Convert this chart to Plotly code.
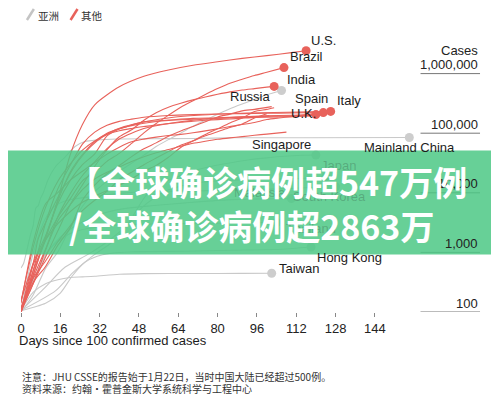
import math
import plotly.graph_objects as go

# ---------------- data ----------------
# red ("其他")
us_days = [0, 5, 10, 15, 20, 25, 30, 40, 50, 60, 70, 80, 90, 100, 110, 116]
us_cases = [100, 500, 1700, 7800, 43000, 140000, 300000, 600000, 900000, 1150000, 1380000, 1580000, 1800000, 2000000, 2250000, 2420000]
brazil_days = [0, 5, 10, 15, 20, 25, 30, 35, 40, 45, 50, 55, 60, 65, 70, 75, 80, 85, 90, 95, 100, 107]
brazil_cases = [100, 430, 1600, 3900, 7900, 15900, 22200, 33700, 45800, 67400, 101100, 145300, 200000, 272000, 350000, 445000, 560000, 690000, 805000, 930000, 1050000, 1260000]
russia_days = [0, 5, 10, 15, 20, 25, 30, 35, 40, 45, 50, 55, 60, 65, 70, 75, 80, 85, 90, 95, 100, 103]
russia_cases = [100, 300, 840, 2300, 6300, 13600, 27900, 52800, 87100, 114000, 165000, 221000, 272000, 317000, 362000, 405000, 449000, 493000, 530000, 560000, 592000, 610000]
uk_days = [0, 5, 10, 15, 20, 25, 30, 35, 40, 45, 50, 60, 70, 80, 90, 100, 110, 120]
uk_cases = [100, 380, 1140, 4000, 9600, 19500, 33000, 55000, 80000, 100000, 120000, 145000, 165000, 178000, 188000, 195000, 200000, 205000]
spain_days = [0, 5, 10, 15, 20, 25, 30, 35, 40, 45, 50, 60, 70, 80, 90, 100, 110, 123]
spain_cases = [100, 500, 3100, 11700, 28700, 65700, 104000, 136000, 158000, 172000, 185000, 198000, 205000, 210000, 213000, 216000, 219000, 222000]
italy_days = [0, 5, 7, 11, 16, 21, 26, 31, 36, 42, 52, 62, 72, 82, 92, 103, 113, 126]
italy_cases = [100, 650, 1690, 3860, 10150, 24750, 47000, 74400, 101700, 128900, 160000, 185000, 200000, 210000, 217000, 223000, 227000, 232000]
germany_days = [0, 5, 10, 15, 20, 25, 30, 35, 40, 45, 50, 60, 70, 80, 90, 100, 110, 118]
germany_cases = [100, 670, 1900, 7300, 22200, 43900, 71800, 100000, 119000, 134000, 147000, 163000, 171000, 178000, 183000, 186000, 190000, 194000]
france_days = [0, 5, 10, 15, 20, 25, 30, 35, 40, 45, 50, 60, 70, 80, 90, 100, 110, 119]
france_cases = [100, 420, 1800, 6600, 16000, 29600, 45000, 90000, 118000, 137000, 155000, 166000, 177000, 181000, 188000, 192000, 196000, 199000]
turkey_days = [0, 5, 10, 15, 20, 25, 30, 35, 40, 45, 50, 55, 60, 65, 70, 75, 80, 85, 90, 95, 101]
turkey_cases = [150, 1236, 5698, 15679, 30217, 52167, 74193, 95591, 110130, 120204, 129491, 137115, 144749, 152587, 158762, 164769, 169218, 173036, 178239, 184031, 195883]
iran_days = [0, 5, 10, 15, 20, 25, 30, 35, 40, 45, 50, 55, 60, 65, 70, 75, 80, 85, 90, 95, 100, 105, 110, 115, 122]
iran_cases = [139, 1501, 6566, 10075, 16169, 23049, 32332, 44605, 58226, 71686, 79494, 85996, 91472, 95646, 101650, 109286, 118392, 129341, 139511, 151466, 169425, 180156, 189876, 202584, 222669]
peru_days = [0, 5, 10, 15, 20, 25, 30, 35, 40, 45, 50, 55, 60, 65, 70, 75, 80, 85, 90, 95, 102]
peru_cases = [117, 318, 580, 1323, 2561, 7519, 13489, 20914, 28699, 40459, 54817, 68822, 88541, 108769, 129751, 155671, 187400, 208823, 237156, 251338, 279419]
chile_days = [0, 5, 10, 15, 20, 25, 30, 35, 40, 45, 50, 55, 60, 65, 70, 75, 80, 85, 90, 95, 100, 103]
chile_cases = [156, 632, 1610, 3031, 4815, 6927, 8807, 10832, 13331, 17008, 23048, 28866, 39542, 57581, 73997, 94858, 118292, 148456, 179436, 231393, 250767, 267766]
mexico_days = [0, 5, 10, 15, 20, 25, 30, 35, 40, 45, 50, 55, 60, 65, 70, 75, 80, 85, 90, 95, 100]
mexico_cases = [118, 370, 717, 1510, 2785, 5014, 7497, 10544, 16752, 22088, 29616, 38324, 49219, 62527, 74560, 90664, 105680, 124301, 142690, 180000, 212802]
canada_days = [0, 5, 10, 15, 20, 25, 30, 35, 40, 45, 50, 55, 60, 65, 70, 75, 80, 85, 90, 95, 100, 108]
canada_cases = [108, 304, 1087, 3409, 6280, 11283, 17063, 22148, 27063, 33383, 40179, 46895, 53236, 60504, 67702, 73401, 79101, 83621, 87519, 92410, 96653, 104204]

# gray ("亚洲")
china_days = [0, 1, 2, 3, 4, 5, 6, 7, 8, 9, 11, 14, 18, 22, 26, 31, 39, 53, 70, 86, 114, 158]
china_cases = [548, 643, 920, 1406, 2075, 2877, 5509, 6087, 8141, 9802, 16600, 27400, 40150, 59900, 72400, 76900, 79900, 80800, 81600, 83800, 84000, 84700]
india_days = [0, 5, 10, 15, 20, 25, 30, 35, 40, 45, 50, 55, 60, 65, 70, 75, 80, 85, 90, 95, 100, 106]
india_cases = [100, 195, 540, 1020, 2570, 5920, 10450, 15720, 23080, 31320, 42840, 59700, 78060, 100330, 131420, 165390, 207190, 257490, 308990, 366950, 440220, 520000]
singapore_days = [0, 14, 21, 30, 37, 44, 51, 58, 65, 72, 79, 86, 93, 100, 107, 114, 120]
singapore_cases = [106, 226, 455, 926, 1481, 3252, 9125, 14951, 19410, 24671, 28794, 32343, 35836, 38514, 40969, 42623, 43000]
japan_days = [0, 9, 18, 28, 38, 44, 49, 54, 59, 69, 79, 89, 101, 115, 124]
japan_cases = [105, 239, 568, 963, 1866, 3139, 5530, 8100, 10797, 14088, 15747, 16367, 16851, 17502, 18400]
korea_days = [0, 5, 10, 14, 19, 29, 40, 55, 71, 85, 102, 116, 128]
korea_cases = [104, 977, 3736, 6088, 7513, 8652, 9786, 10591, 10774, 11018, 11541, 12121, 12653]
malaysia_days = [0, 6, 11, 16, 22, 32, 42, 53, 67, 84, 98, 110]
malaysia_cases = [117, 428, 1030, 1796, 2766, 4346, 5425, 6071, 6779, 7600, 7900, 8000]
thailand_days = [0, 5, 10, 15, 20, 25, 30, 40, 50, 70, 90, 104]
thailand_cases = [114, 322, 934, 1524, 2067, 2423, 2613, 2907, 2987, 3040, 3129, 3169]
hongkong_days = [0, 10, 16, 21, 26, 31, 36, 46, 66, 86, 106, 118]
hongkong_cases = [105, 140, 208, 410, 682, 862, 960, 1026, 1045, 1088, 1131, 1230]
taiwan_days = [0, 5, 10, 15, 20, 25, 30, 40, 50, 70, 90, 102]
taiwan_cases = [108, 216, 298, 348, 379, 388, 398, 429, 440, 442, 445, 447]

x_ticks = [0, 16, 32, 48, 64, 80, 96, 112, 128, 144]
y_label_values = [1000000, 100000, 10000, 1000, 100]
y_label_texts = ["1,000,000", "100,000", "10,000", "1,000", "100"]

legend_names = ["亚洲", "其他"]
title_lines = ["【全球确诊病例超547万例", "/全球确诊病例超2863万"]
note_lines = ["注意：JHU CSSE的报告始于1月22日，当时中国大陆已经超过500例。",
              "资料来源：约翰·霍普金斯大学系统科学与工程中心"]

RED = "#e8625b"
GRAY = "#c9c9c9"

red_series = [
    (germany_days, germany_cases), (france_days, france_cases), (turkey_days, turkey_cases),
    (iran_days, iran_cases), (peru_days, peru_cases), (chile_days, chile_cases),
    (mexico_days, mexico_cases), (canada_days, canada_cases), (uk_days, uk_cases),
    (spain_days, spain_cases), (italy_days, italy_cases), (russia_days, russia_cases),
    (brazil_days, brazil_cases), (us_days, us_cases),
]
gray_series = [
    (taiwan_days, taiwan_cases), (hongkong_days, hongkong_cases), (thailand_days, thailand_cases),
    (malaysia_days, malaysia_cases), (korea_days, korea_cases), (japan_days, japan_cases),
    (singapore_days, singapore_cases), (india_days, india_cases), (china_days, china_cases),
]
red_dotted = [(us_days, us_cases), (brazil_days, brazil_cases), (russia_days, russia_cases),
              (uk_days, uk_cases), (spain_days, spain_cases), (italy_days, italy_cases)]
gray_dotted = [(india_days, india_cases), (singapore_days, singapore_cases), (china_days, china_cases),
               (japan_days, japan_cases), (korea_days, korea_cases), (malaysia_days, malaysia_cases),
               (thailand_days, thailand_cases), (hongkong_days, hongkong_cases), (taiwan_days, taiwan_cases)]

# ---------------- layout geometry ----------------
# the page body adds an 8px margin; the figure is sized to fill the rest of the window
PAGE_OFF = 8
WIN_W, WIN_H = 499, 406
W, H = WIN_W - PAGE_OFF, WIN_H - PAGE_OFF
PLOT_LEFT, PLOT_RIGHT, PLOT_TOP, PLOT_BOTTOM = 17, 482, 20, 312   # window pixels
L, R = PLOT_LEFT - PAGE_OFF, WIN_W - PLOT_RIGHT
T, B = PLOT_TOP - PAGE_OFF, WIN_H - PLOT_BOTTOM
PW, PH = PLOT_RIGHT - PLOT_LEFT, PLOT_BOTTOM - PLOT_TOP
PX_PER_DAY = 2.479
PX_PER_DECADE = 59.6


def fx(px):
    return (px - PLOT_LEFT) / PW


def fy(py):
    return (PLOT_BOTTOM - py) / PH


fig = go.Figure()

for days, cases in gray_series:
    fig.add_trace(go.Scatter(x=days, y=cases, mode="lines",
                             line=dict(color=GRAY, width=1.1, shape="spline", smoothing=0.7),
                             hoverinfo="skip", showlegend=False))
for days, cases in red_series:
    fig.add_trace(go.Scatter(x=days, y=cases, mode="lines",
                             line=dict(color=RED, width=1.1, shape="spline", smoothing=0.7),
                             hoverinfo="skip", showlegend=False))

fig.add_trace(go.Scatter(x=[d[-1] for d, c in gray_dotted], y=[c[-1] for d, c in gray_dotted],
                         mode="markers", marker=dict(color="#cdcdcd", size=9),
                         hoverinfo="skip", showlegend=False))
fig.add_trace(go.Scatter(x=[d[-1] for d, c in red_dotted], y=[c[-1] for d, c in red_dotted],
                         mode="markers", marker=dict(color=RED, size=9),
                         hoverinfo="skip", showlegend=False))

# short right-hand gridline segments
gx0 = (420 - PLOT_LEFT) / PX_PER_DAY
gx1 = (480 - PLOT_LEFT) / PX_PER_DAY
for v in y_label_values:
    fig.add_trace(go.Scatter(x=[gx0, gx1], y=[v, v], mode="lines",
                             line=dict(color="#777777", width=1),
                             hoverinfo="skip", showlegend=False))

FONT = "Liberation Sans, Arial, sans-serif"
CJK = "Noto Sans CJK SC, sans-serif"
ann = []


def label(text, cx, cy, size=13, color="#1c1c1c", font=FONT, xanchor="center"):
    ann.append(dict(text=text, x=fx(cx), y=fy(cy), xref="paper", yref="paper",
                    xanchor=xanchor, yanchor="middle", showarrow=False,
                    font=dict(family=font, size=size, color=color)))


# y labels
for v, t in zip(y_label_values, y_label_texts):
    ann.append(dict(text=t, x=fx(480), y=math.log10(v), xref="paper", yref="y",
                    xanchor="right", yanchor="middle", yshift=9, showarrow=False,
                    font=dict(family=FONT, size=13, color="#222")))
ann.append(dict(text="Cases", x=fx(480), y=math.log10(1000000), xref="paper", yref="y",
                xanchor="right", yanchor="middle", yshift=23, showarrow=False,
                font=dict(family=FONT, size=13, color="#222")))

# country labels
label("U.S.", 322, 40)
label("Brazil", 305, 56)
label("India", 300, 79)
label("Russia", 248, 96)
label("Spain", 310, 99)
label("Italy", 348, 100)
label("U.K.", 302, 114)
label("Singapore", 280, 144)
label("Mainland China", 409, 147)
HID = "rgba(30,30,30,0.22)"
label("Japan", 337, 165, color=HID)
label("Malaysia", 258, 192, color=HID)
label("South Korea", 328, 196, color=HID)
label("Thailand", 310, 228, color=HID)
label("Hong Kong", 348, 257)
label("Taiwan", 297, 268)

# axis title + notes
label("Days since 100 confirmed cases", 13, 340, size=13, xanchor="left")
label(note_lines[0], 16, 377, size=10, color="#333", font=CJK, xanchor="left")
label(note_lines[1], 16, 388, size=10, color="#333", font=CJK, xanchor="left")

# legend
label(legend_names[0], 32, 15, size=10.5, color="#333", font=CJK, xanchor="left")
label(legend_names[1], 76, 15, size=10.5, color="#333", font=CJK, xanchor="left")

# banner title (on top)
label("<b>" + title_lines[0] + "</b>", 265, 181, size=34, color="white", font=CJK)
label("<b>" + title_lines[1] + "</b>", 249, 225, size=34, color="white", font=CJK)

shapes = [
    dict(type="line", xref="paper", yref="paper", x0=fx(23), y0=fy(20), x1=fx(30), y1=fy(9),
         line=dict(color="#c4c4c4", width=2.5)),
    dict(type="line", xref="paper", yref="paper", x0=fx(67), y0=fy(20), x1=fx(74), y1=fy(9),
         line=dict(color=RED, width=2.5)),
    dict(type="rect", xref="paper", yref="paper", x0=fx(0), x1=fx(WIN_W + 4), y0=fy(254.5), y1=fy(150.5),
         fillcolor="rgba(78,200,134,0.86)", line=dict(width=0), layer="above"),
]

fig.update_layout(
    width=W, height=H,
    margin=dict(l=L, r=R, t=T, b=B),
    paper_bgcolor="white", plot_bgcolor="white",
    showlegend=False,
    xaxis=dict(range=[0, PW / PX_PER_DAY], tickvals=x_ticks, ticks="outside", ticklen=4,
               tickcolor="#888", tickwidth=1, showgrid=False, zeroline=False, showline=False,
               tickfont=dict(family=FONT, size=13, color="#222")),
    yaxis=dict(type="log", range=[2, 2 + PH / PX_PER_DECADE], showticklabels=False,
               showgrid=False, zeroline=False, showline=False, ticks=""),
    annotations=ann,
    shapes=shapes,
)

fig.write_html("out.html")
